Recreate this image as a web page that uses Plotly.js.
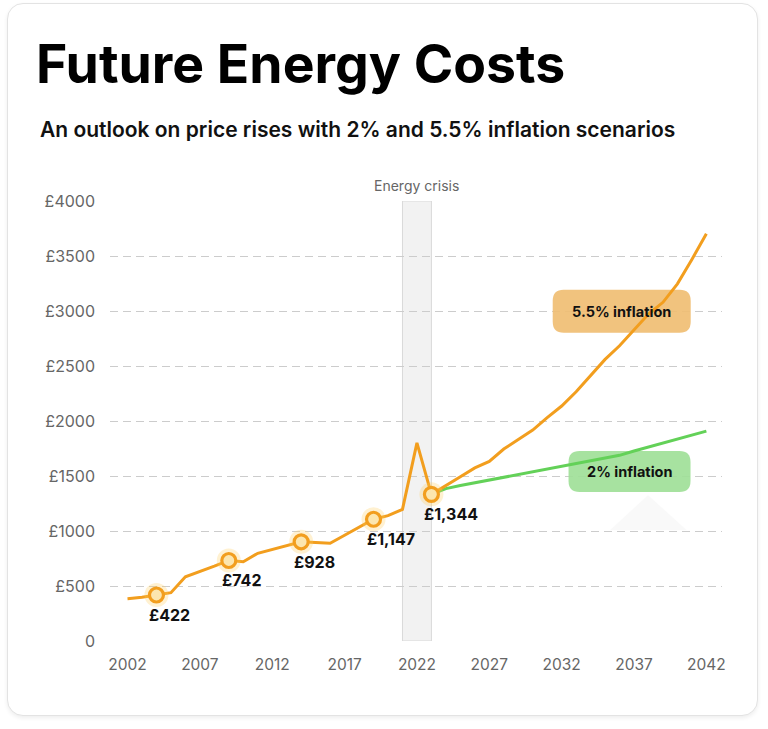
<!DOCTYPE html>
<html><head><meta charset="utf-8">
<script src="https://cdn.plot.ly/plotly-3.0.1.min.js"></script>
<style>
html,body{margin:0;padding:0;background:#fff;}
#card{position:absolute;left:7px;top:3px;width:749px;height:711px;border:1px solid #e3e3e3;border-radius:16px;box-shadow:0 2px 4px rgba(0,0,0,0.07);background:#fff;}
#chart{position:absolute;left:0;top:0;width:768px;height:729px;}
</style></head><body>
<div id="card"></div>
<div id="chart"></div>
<script>
// ---- data ----
const histYears = [2002,2003,2004,2005,2006,2007,2008,2009,2010,2011,2012,2013,2014,2015,2016,2017,2018,2019,2020,2021,2022,2023];
const histCost  = [385,397,418,439,584,629,680,732,720,797,832,867,902,895,888,961,1035,1107,1140,1196,1801,1333];
const projYears = [2023,2024,2025,2026,2027,2028,2029,2030,2031,2032,2033,2034,2035,2036,2037,2038,2039,2040,2041,2042];
const cost55    = [1333,1417,1494,1574,1632,1745,1829,1917,2030,2136,2266,2417,2560,2684,2828,2972,3079,3247,3469,3702];
const cost2     = [1333,1385,1413,1438,1462,1487,1514,1542,1566,1589,1614,1639,1664,1688,1727,1764,1800,1836,1872,1908];
const markerYears  = [2004,2009,2014,2019,2023];
const markerLabels = ["£422","£742","£928","£1,147","£1,344"];
const xTicks = [2002,2007,2012,2017,2022,2027,2032,2037,2042];
const yTicks = [0,500,1000,1500,2000,2500,3000,3500,4000];
const yTickText = ["0","£500","£1000","£1500","£2000","£2500","£3000","£3500","£4000"];
const crisisStart = 2021, crisisEnd = 2023;

// ---- styles ----
const ORANGE = "#F29E1E", GREEN = "#63D158";
const FONT = "Inter, 'Noto Sans', sans-serif";
const markerCost = markerYears.map(y => histCost[histYears.indexOf(y)]);

function roundRect(w,h,r){
  const x0=-w/2,x1=w/2,y0=-h/2,y1=h/2;
  return `M${x0+r},${y0} L${x1-r},${y0} Q${x1},${y0} ${x1},${y0+r} L${x1},${y1-r} Q${x1},${y1} ${x1-r},${y1} L${x0+r},${y1} Q${x0},${y1} ${x0},${y1-r} L${x0},${y0+r} Q${x0},${y0} ${x0+r},${y0} Z`;
}

const traces = [
  {x: projYears, y: cost2, mode:"lines", line:{color:GREEN, width:3}, hoverinfo:"skip"},
  {x: projYears, y: cost55, mode:"lines", line:{color:ORANGE, width:3}, hoverinfo:"skip"},
  {x: histYears, y: histCost, mode:"lines", line:{color:ORANGE, width:3}, hoverinfo:"skip"},
  {x: markerYears, y: markerCost, mode:"markers", marker:{size:24, color:"rgba(255,205,90,0.28)", line:{width:0}}, hoverinfo:"skip"},
  {x: markerYears, y: markerCost, mode:"markers", marker:{size:14, color:"#FCE6AE", line:{color:ORANGE, width:3.2}}, hoverinfo:"skip"}
];

const annotations = markerYears.map((yr,i)=>({
  x: yr, y: markerCost[i], xref:"x", yref:"y", text: markerLabels[i], showarrow:false,
  xanchor:"left", yanchor:"middle", xshift:-9, yshift:-20,
  font:{family:FONT, size:16, color:"#111", weight:700}
}));
annotations.push(
  {x:(crisisStart+crisisEnd)/2, y:1, xref:"x", yref:"paper", yanchor:"bottom", yshift:5, showarrow:false,
   text:"Energy crisis", font:{family:FONT, size:14, color:"#666"}},
  {x:2036.15, y:2998, xref:"x", yref:"y", showarrow:false, text:"5.5% inflation",
   font:{family:FONT, size:14.5, color:"#111", weight:700}},
  {x:2036.69, y:1545, xref:"x", yref:"y", showarrow:false, text:"2% inflation",
   font:{family:FONT, size:14.5, color:"#111", weight:700}},
  {x:-0.1176, y:1.1636, xref:"paper", yref:"paper", xanchor:"left", yanchor:"middle", showarrow:false,
   text:"An outlook on price rises with 2% and 5.5% inflation scenarios",
   font:{family:FONT, size:21, color:"#111", weight:600}}
);

const shapes = [
  {type:"rect", xref:"x", yref:"y", x0:crisisStart, x1:crisisEnd, y0:0, y1:4000,
   fillcolor:"#f2f2f2", line:{color:"#d9d9d9", width:1}, layer:"below"},
  {type:"path", xref:"x", yref:"y", xsizemode:"pixel", ysizemode:"pixel", xanchor:2036.69, yanchor:1541,
   path:"M18.5,-23.7 L-19.5,-58.7 L57.2,-58.7 Z", fillcolor:"#f9f9f9", line:{width:0}, layer:"between"},
  {type:"path", xref:"x", yref:"y", xsizemode:"pixel", ysizemode:"pixel", xanchor:2036.15, yanchor:2998,
   path:roundRect(138,43,11), fillcolor:"rgba(240,190,115,0.92)", line:{width:0}, layer:"between"},
  {type:"path", xref:"x", yref:"y", xsizemode:"pixel", ysizemode:"pixel", xanchor:2036.69, yanchor:1541,
   path:roundRect(122,41,11), fillcolor:"rgba(160,224,152,0.92)", line:{width:0}, layer:"between"}
];

const layout = {
  width:768, height:729,
  paper_bgcolor:"rgba(0,0,0,0)", plot_bgcolor:"rgba(0,0,0,0)",
  margin:{l:110, r:46, t:201, b:88, pad:0},
  showlegend:false,
  title:{text:"Future Energy Costs", xref:"container", yref:"container", x:36/768, xanchor:"left",
         y:1-46/729, yanchor:"top", font:{family:FONT, size:53.5, color:"#000", weight:700}},
  xaxis:{range:[2000.79, 2043.08], tickvals:xTicks, showgrid:false, zeroline:false, showline:false,
         ticks:"", ticklabelstandoff:12, tickfont:{family:FONT, size:15.5, color:"#666"}},
  yaxis:{range:[0,4000], tickvals:yTicks, ticktext:yTickText, showgrid:true, gridcolor:"#cccccc",
         griddash:"8px,5px", gridwidth:1, zeroline:false, showline:false, ticks:"",
         ticklabelstandoff:14, tickfont:{family:FONT, size:16, color:"#666"}},
  annotations, shapes
};

Plotly.newPlot("chart", traces, layout, {staticPlot:true, displayModeBar:false});
</script>
</body></html>
